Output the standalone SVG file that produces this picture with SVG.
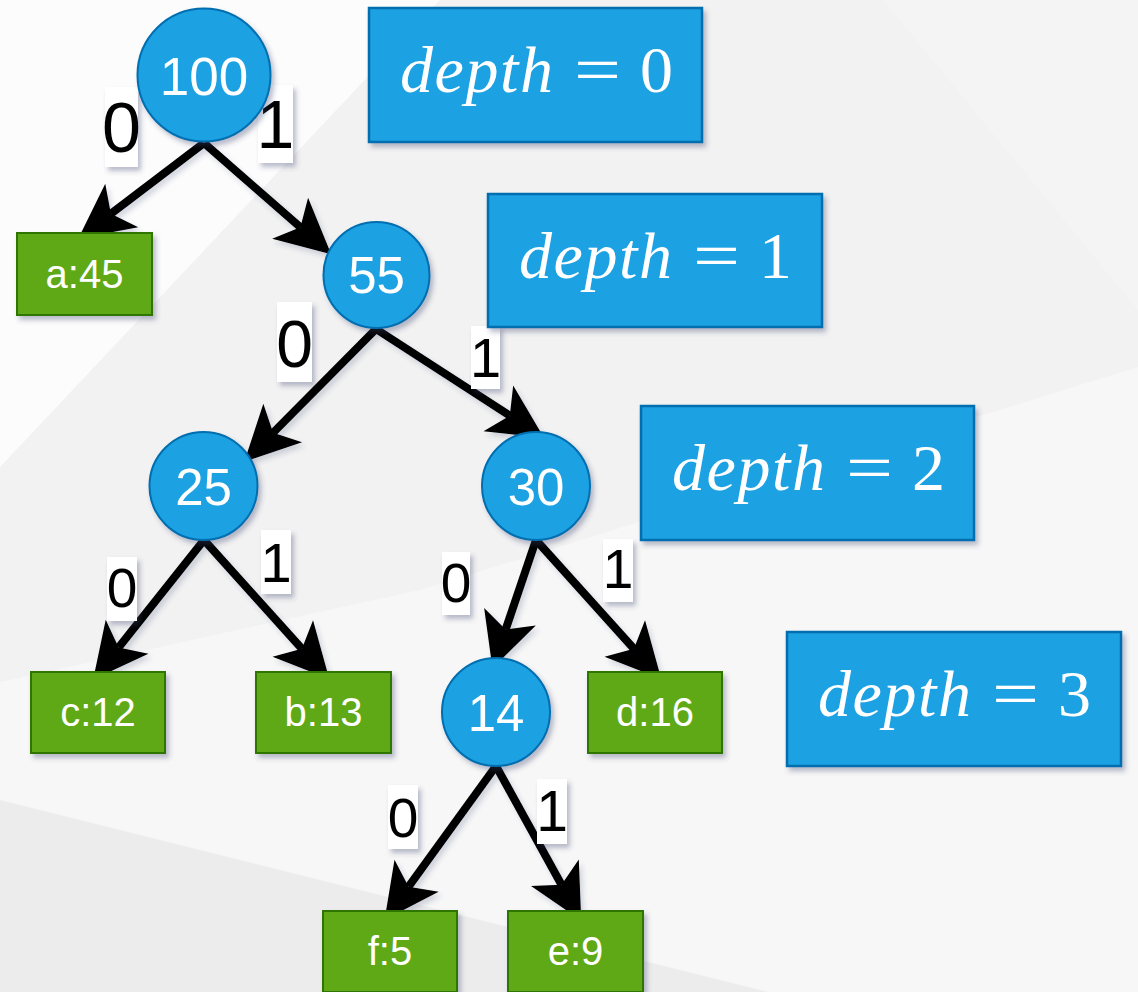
<svg xmlns="http://www.w3.org/2000/svg" width="1138" height="992" viewBox="0 0 1138 992">
<defs>
<filter id="sh" x="-20%" y="-20%" width="150%" height="150%">
<feDropShadow dx="3" dy="4" stdDeviation="2.5" flood-color="#3c3f6e" flood-opacity="0.35"/>
</filter>
<filter id="esh" x="-10%" y="-10%" width="130%" height="130%">
<feDropShadow dx="3" dy="4" stdDeviation="2.5" flood-color="#3c3f6e" flood-opacity="0.2"/>
</filter>
<marker id="arr" markerUnits="userSpaceOnUse" markerWidth="60" markerHeight="60" viewBox="-12 -22 44 44" refX="0" refY="0" orient="auto" overflow="visible">
<path d="M30,0 L-10,-20 L0,0 L-10,20 Z" fill="#000"/>
</marker>
<style>
.circ{fill:#1ba1e2;stroke:#006eaf;stroke-width:2}
.leaf{fill:#60a917;stroke:#2d7600;stroke-width:2}
.dep{fill:#1ba1e2;stroke:#006eaf;stroke-width:2.5}
.nt{font-family:"Liberation Sans",Arial,sans-serif;fill:#fff;text-anchor:middle}
.math{font-family:"Liberation Serif","Times New Roman",serif;fill:#fff;font-size:66px}
.edge{stroke:#000;stroke-width:8;fill:none;marker-end:url(#arr)}
.lb{fill:#fff}
.lt{font-family:"Liberation Sans",Arial,sans-serif;fill:#000;text-anchor:middle}
</style>
</defs>
<g id="background">
<rect x="0" y="0" width="1138" height="992" fill="#f2f2f2"/>
<polygon points="0,0 440,0 0,467" fill="#fcfcfc"/>
<polygon points="883,0 1138,0 1138,310" fill="#f4f4f4"/>
<polygon points="0,682 420,590 1138,367 1138,992 0,992" fill="#f7f7f7"/>
<polygon points="0,800 768,992 0,992" fill="#ececec"/>
</g>
<g id="connectors" filter="url(#esh)">
<line class="edge" x1="204" y1="143" x2="110.9" y2="213.8"/>
<line class="edge" x1="204" y1="143" x2="300.4" y2="227.3"/>
<line class="edge" x1="376" y1="329" x2="273.1" y2="432.7"/>
<line class="edge" x1="376" y1="329" x2="509.8" y2="415.7"/>
<line class="edge" x1="204" y1="540" x2="118.6" y2="647.5"/>
<line class="edge" x1="204" y1="540" x2="301.9" y2="648.7"/>
<line class="edge" x1="536" y1="540" x2="505.6" y2="629.6"/>
<line class="edge" x1="536" y1="540" x2="633.9" y2="648.7"/>
<line class="edge" x1="496" y1="766" x2="408.6" y2="886.7"/>
<line class="edge" x1="496" y1="766" x2="561.5" y2="884.7"/>
</g>
<g id="edge-labels">
<g filter="url(#sh)"><rect class="lb" x="105" y="87" width="33" height="80"/></g>
<text class="lt" x="121.5" y="152" font-size="70">0</text>
<g filter="url(#sh)"><rect class="lb" x="258" y="85" width="35" height="78"/></g>
<text class="lt" x="275.5" y="148" font-size="68">1</text>
<g filter="url(#sh)"><rect class="lb" x="277" y="302" width="35" height="80"/></g>
<text class="lt" x="294.5" y="367" font-size="66">0</text>
<g filter="url(#sh)"><rect class="lb" x="471" y="326" width="29" height="63"/></g>
<text class="lt" x="485.5" y="377" font-size="56">1</text>
<g filter="url(#sh)"><rect class="lb" x="107" y="557" width="30" height="64"/></g>
<text class="lt" x="122" y="607" font-size="55">0</text>
<g filter="url(#sh)"><rect class="lb" x="261" y="530" width="30" height="64"/></g>
<text class="lt" x="276" y="582" font-size="56">1</text>
<g filter="url(#sh)"><rect class="lb" x="442" y="552" width="28" height="63"/></g>
<text class="lt" x="456" y="602" font-size="55">0</text>
<g filter="url(#sh)"><rect class="lb" x="603" y="539" width="30" height="63"/></g>
<text class="lt" x="618" y="588" font-size="55">1</text>
<g filter="url(#sh)"><rect class="lb" x="388" y="785" width="30" height="64"/></g>
<text class="lt" x="403" y="837" font-size="55">0</text>
<g filter="url(#sh)"><rect class="lb" x="537" y="779" width="30" height="65"/></g>
<text class="lt" x="552" y="831" font-size="57">1</text>
</g>
<g id="n100"><circle class="circ" cx="204" cy="75" r="66.5" filter="url(#sh)"/><text class="nt" x="204" y="95" font-size="53">100</text></g>
<g id="n55"><circle class="circ" cx="376.5" cy="275" r="53" filter="url(#sh)"/><text class="nt" x="376.5" y="293" font-size="51">55</text></g>
<g id="n25"><circle class="circ" cx="203.5" cy="486" r="54" filter="url(#sh)"/><text class="nt" x="203.5" y="505" font-size="51">25</text></g>
<g id="n30"><circle class="circ" cx="536" cy="486" r="54" filter="url(#sh)"/><text class="nt" x="536" y="505" font-size="51">30</text></g>
<g id="n14"><circle class="circ" cx="496" cy="712" r="54" filter="url(#sh)"/><text class="nt" x="496" y="731" font-size="51">14</text></g>
<g id="a45"><rect class="leaf" x="17" y="233" width="135" height="82" filter="url(#sh)"/><text class="nt" x="84.5" y="288" font-size="40">a:45</text></g>
<g id="c12"><rect class="leaf" x="31" y="672" width="134" height="81" filter="url(#sh)"/><text class="nt" x="98" y="726" font-size="40">c:12</text></g>
<g id="b13"><rect class="leaf" x="256" y="672" width="135" height="81" filter="url(#sh)"/><text class="nt" x="323.5" y="726" font-size="40">b:13</text></g>
<g id="d16"><rect class="leaf" x="588" y="672" width="134" height="81" filter="url(#sh)"/><text class="nt" x="655" y="726" font-size="40">d:16</text></g>
<g id="f5"><rect class="leaf" x="323" y="911" width="134" height="81" filter="url(#sh)"/><text class="nt" x="390" y="965" font-size="40">f:5</text></g>
<g id="e9"><rect class="leaf" x="508" y="911" width="135" height="81" filter="url(#sh)"/><text class="nt" x="575.5" y="965" font-size="40">e:9</text></g>
<g id="depth0"><rect class="dep" x="369" y="8" width="333" height="134" filter="url(#sh)"/>
<text class="math" x="400" y="92" font-style="italic" textLength="153" lengthAdjust="spacing">depth</text>
<text class="math" x="574" y="92" textLength="47" lengthAdjust="spacingAndGlyphs">=</text>
<text class="math" x="640" y="92">0</text></g>
<g id="depth1"><rect class="dep" x="488" y="194" width="334" height="133" filter="url(#sh)"/>
<text class="math" x="519" y="278" font-style="italic" textLength="153" lengthAdjust="spacing">depth</text>
<text class="math" x="693" y="278" textLength="47" lengthAdjust="spacingAndGlyphs">=</text>
<text class="math" x="759" y="278">1</text></g>
<g id="depth2"><rect class="dep" x="641" y="406" width="333" height="134" filter="url(#sh)"/>
<text class="math" x="672" y="490" font-style="italic" textLength="153" lengthAdjust="spacing">depth</text>
<text class="math" x="846" y="490" textLength="47" lengthAdjust="spacingAndGlyphs">=</text>
<text class="math" x="912" y="490">2</text></g>
<g id="depth3"><rect class="dep" x="787" y="632" width="334" height="134" filter="url(#sh)"/>
<text class="math" x="818" y="716" font-style="italic" textLength="153" lengthAdjust="spacing">depth</text>
<text class="math" x="992" y="716" textLength="47" lengthAdjust="spacingAndGlyphs">=</text>
<text class="math" x="1058" y="716">3</text></g>
</svg>
